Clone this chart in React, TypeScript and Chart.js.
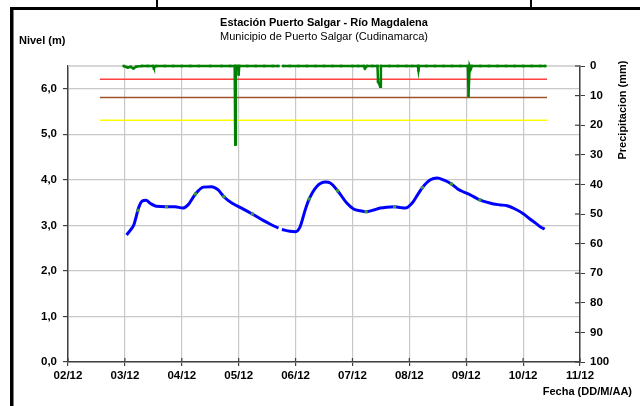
import React, { useEffect, useRef } from 'react';
import { Chart, registerables } from 'chart.js';
Chart.register(...registerables);

const xLabels = ['02/12', '03/12', '04/12', '05/12', '06/12', '07/12', '08/12', '09/12', '10/12', '11/12'];

// Level (m) — x in days from 02/12
const levelDays = [
  1.03, 1.10, 1.16, 1.20, 1.24, 1.30, 1.37, 1.45, 1.55, 1.73, 1.88, 2.02, 2.11, 2.24, 2.38, 2.52, 2.64, 2.74,
  2.88, 3.05, 3.24, 3.43, 3.55, 3.70, 3.73, 3.76, 3.90, 4.00, 4.08, 4.17, 4.24, 4.37, 4.53, 4.61, 4.74, 4.90,
  5.02, 5.14, 5.24, 5.35, 5.49, 5.60, 5.74, 5.85, 5.93, 6.05, 6.15, 6.23, 6.37, 6.49, 6.60, 6.74, 6.85, 6.96,
  7.07, 7.24, 7.36, 7.48, 7.60, 7.72, 7.86, 8.01, 8.12, 8.22, 8.30, 8.38,
];
const levelValues = [
  2.79, 2.90, 3.02, 3.20, 3.38, 3.53, 3.55, 3.48, 3.42, 3.41, 3.41, 3.38, 3.45, 3.69, 3.84, 3.85, 3.78, 3.63,
  3.49, 3.38, 3.25, 3.11, 3.03, 2.94, null, 2.91, 2.87, 2.86, 2.97, 3.34, 3.58, 3.85, 3.95, 3.93, 3.76, 3.49,
  3.36, 3.32, 3.30, 3.33, 3.38, 3.40, 3.41, 3.39, 3.38, 3.49, 3.68, 3.83, 4.00, 4.04, 4.00, 3.91, 3.80, 3.73,
  3.67, 3.56, 3.51, 3.47, 3.45, 3.43, 3.36, 3.25, 3.14, 3.05, 2.97, 2.92,
];

// Manual level readings (green marks)
const readingDays = [1.23, 1.73, 2.24, 2.74, 3.24, 4.24, 4.74, 5.24, 5.74, 6.23, 6.74, 7.24];
const readingValues = [3.33, 3.41, 3.69, 3.63, 3.25, 3.58, 3.76, 3.30, 3.41, 3.83, 3.91, 3.56];

// Precipitation (mm)
const precipDays = [
  0.98, 1.05, 1.10, 1.15, 1.20, 1.30, 1.40, 1.50, 1.51, 1.55, 1.70, 1.85, 2.00, 2.15, 2.30, 2.50, 2.70, 2.85,
  2.93, 2.94, 2.95, 2.99, 3.00, 3.01, 3.15, 3.30, 3.45, 3.60, 3.70, 3.74, 3.78, 3.90, 4.05, 4.20, 4.35, 4.50,
  4.65, 4.80, 5.00, 5.10, 5.20, 5.22, 5.25, 5.35, 5.44, 5.45, 5.49, 5.50, 5.65, 5.80, 5.95, 6.05, 6.15, 6.16,
  6.17, 6.30, 6.45, 6.60, 6.75, 6.90, 7.03, 7.04, 7.06, 7.08, 7.10, 7.25, 7.40, 7.55, 7.70, 7.85, 8.00, 8.15,
  8.30, 8.39,
];
const precipValues = [
  0, 0.5, 0.3, 0.8, 0.2, 0, 0, 0, 0.5, 0, 0, 0, 0, 0, 0, 0, 0, 0,
  0, 26.5, 0, 0, 2.9, 0, 0, 0, 0, 0, 0, null, 0, 0, 0, 0, 0, 0,
  0, 0, 0, 0, 0, 0.8, 0, 0, 0, 5.3, 7.0, 0, 0, 0, 0, 0, 0, 1.4,
  0, 0, 0, 0, 0, 0, 0, 10.2, 0, 1.0, 0, 0, 0, 0, 0, 0, 0, 0,
  0, 0,
];

// Alert thresholds (m)
const thresholdStart = 0.56;
const thresholdEnd = 8.42;
const thresholdRed = 6.21;
const thresholdBrown = 5.81;
const thresholdYellow = 5.31;

const FONT = '"Liberation Sans", Arial, sans-serif';

export default function App() {
  const ref = useRef<HTMLCanvasElement>(null);
  useEffect(() => {
    document.body.style.margin = '0';
    const canvas = ref.current!;
    const pts = (xs: number[], ys: (number | null)[]) => xs.map((x, i) => ({ x, y: ys[i] }));
    const hline = (v: number) => [{ x: thresholdStart, y: v }, { x: thresholdEnd, y: v }];

    const decor = {
      id: 'decor',
      beforeDraw(chart: any) {
        const c = chart.ctx;
        c.save();
        c.fillStyle = '#ffffff';
        c.fillRect(0, 0, chart.width, chart.height);
        c.restore();
      },
      beforeDatasetsDraw(chart: any) {
        const c = chart.ctx;
        const a = chart.chartArea;
        c.save();
        c.strokeStyle = '#c8c8c8';
        c.lineWidth = 1.5;
        c.beginPath();
        c.moveTo(a.left, a.top);
        c.lineTo(a.right, a.top);
        c.stroke();
        c.restore();
      },
      afterDraw(chart: any) {
        const c = chart.ctx;
        const a = chart.chartArea;
        c.save();
        // inner tick marks
        c.strokeStyle = '#404040';
        c.lineWidth = 1.2;
        const xs = chart.scales.x;
        xs.ticks.forEach((t: any) => {
          const px = xs.getPixelForValue(t.value);
          c.beginPath();
          c.moveTo(px, a.bottom - 4);
          c.lineTo(px, a.bottom);
          c.stroke();
        });
        const y2 = chart.scales.y2;
        y2.ticks.forEach((t: any) => {
          const py = y2.getPixelForValue(t.value);
          c.beginPath();
          c.moveTo(a.right - 5, py);
          c.lineTo(a.right, py);
          c.stroke();
        });
        // frame
        c.fillStyle = '#000';
        c.fillRect(10, 7, 630, 3);
        c.fillRect(10, 7, 3.5, 399);
        c.fillRect(156, 0, 2, 7);
        c.fillRect(530, 0, 2, 7);
        // texts
        c.fillStyle = '#000';
        c.textBaseline = 'middle';
        c.textAlign = 'center';
        c.font = `bold 11px ${FONT}`;
        c.fillText('Estación Puerto Salgar - Río Magdalena', 324, 23);
        c.font = `11px ${FONT}`;
        c.fillText('Municipio de Puerto Salgar (Cudinamarca)', 324, 37);
        c.textAlign = 'left';
        c.font = `bold 11px ${FONT}`;
        c.fillText('Nivel (m)', 19, 41);
        c.textAlign = 'right';
        c.fillText('Fecha (DD/M/AA)', 632, 392);
        c.save();
        c.translate(623, 110);
        c.rotate(-Math.PI / 2);
        c.textAlign = 'center';
        c.fillText('Precipitacion (mm)', 0, 0);
        c.restore();
        c.restore();
      },
    };

    const tickFont = { family: FONT, size: 11.5, weight: 'bold' as const };

    const chart = new Chart(canvas, {
      type: 'line',
      data: {
        datasets: [
          {
            label: 'Precipitación',
            data: pts(precipDays, precipValues),
            yAxisID: 'y2',
            borderColor: '#008000',
            backgroundColor: '#008000',
            borderWidth: 2.5,
            pointStyle: 'rect',
            pointRadius: 1.8,
            pointBorderWidth: 0,
            tension: 0,
            spanGaps: false,
            clip: 6,
          },
          {
            label: 'Lecturas',
            data: pts(readingDays, readingValues),
            yAxisID: 'y',
            showLine: false,
            pointStyle: 'rect',
            pointRadius: 2.2,
            pointBorderWidth: 0,
            backgroundColor: '#3f9a3f',
            borderColor: '#3f9a3f',
          },
          {
            label: 'Nivel',
            data: pts(levelDays, levelValues),
            yAxisID: 'y',
            borderColor: '#0000ff',
            borderWidth: 3,
            pointRadius: 0,
            tension: 0.35,
            cubicInterpolationMode: 'monotone',
            spanGaps: false,
          },
          {
            label: 'Roja',
            data: hline(thresholdRed),
            yAxisID: 'y',
            borderColor: '#ff4040',
            borderWidth: 1.5,
            pointRadius: 0,
          },
          {
            label: 'Naranja',
            data: hline(thresholdBrown),
            yAxisID: 'y',
            borderColor: '#a0522d',
            borderWidth: 1.5,
            pointRadius: 0,
          },
          {
            label: 'Amarilla',
            data: hline(thresholdYellow),
            yAxisID: 'y',
            borderColor: '#ffff00',
            borderWidth: 1.5,
            pointRadius: 0,
          },
        ],
      },
      options: {
        responsive: false,
        animation: false,
        devicePixelRatio: 1,
        layout: { padding: { top: 66, left: 0, right: 0, bottom: 0 } },
        plugins: { legend: { display: false }, tooltip: { enabled: false }, title: { display: false } },
        scales: {
          x: {
            type: 'linear',
            min: 0,
            max: 9,
            afterBuildTicks: (s: any) => {
              s.ticks = xLabels.map((_, i) => ({ value: i }));
            },
            afterFit: (s: any) => {
              s.height = 44;
            },
            ticks: {
              autoSkip: false,
              maxRotation: 0,
              padding: 3,
              color: '#000',
              font: tickFont,
              callback: (v: any) => xLabels[Math.round(Number(v))],
            },
            grid: { color: '#c8c8c8', lineWidth: 1.2, tickColor: '#404040', tickLength: 4 },
            border: { color: '#404040', width: 1.5 },
          },
          y: {
            position: 'left',
            min: 0,
            max: 6.5,
            afterBuildTicks: (s: any) => {
              s.ticks = [0, 1, 2, 3, 4, 5, 6].map((v) => ({ value: v }));
            },
            afterFit: (s: any) => {
              s.width = 68;
            },
            ticks: {
              padding: 6,
              color: '#000',
              font: tickFont,
              callback: (v: any) => Number(v).toFixed(1).replace('.', ','),
            },
            grid: { color: '#c8c8c8', lineWidth: 1.2, tickColor: '#404040', tickLength: 5 },
            border: { color: '#404040', width: 1.5 },
          },
          y2: {
            position: 'right',
            min: 0,
            max: 100,
            reverse: true,
            afterBuildTicks: (s: any) => {
              s.ticks = [0, 10, 20, 30, 40, 50, 60, 70, 80, 90, 100].map((v) => ({ value: v }));
            },
            afterFit: (s: any) => {
              s.width = 60;
            },
            ticks: { padding: 5, color: '#000', font: tickFont },
            grid: { drawOnChartArea: false, tickColor: '#404040', tickLength: 5 },
            border: { color: '#404040', width: 1.5 },
          },
        },
      },
      plugins: [decor],
    } as any);
    return () => chart.destroy();
  }, []);
  return (
    <canvas
      ref={ref}
      width={640}
      height={406}
      style={{ display: 'block', width: '640px', height: '406px' }}
    />
  );
}
